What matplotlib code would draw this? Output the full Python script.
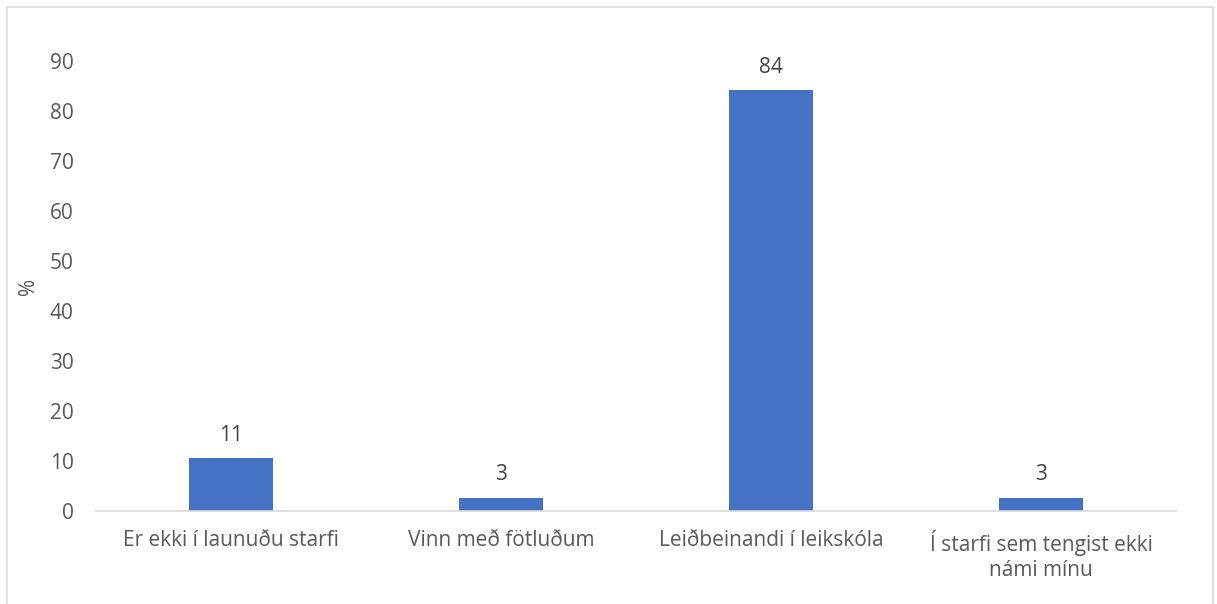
import matplotlib
import matplotlib.pyplot as plt
from matplotlib.patches import Rectangle

matplotlib.use('Agg')

# Data
categories = ["Er ekki í launuðu starfi", "Vinn með fötluðum",
              "Leiðbeinandi í leikskóla", "Í starfi sem tengist ekki\nnámi mínu"]
values = [10.5, 2.6, 84.2, 2.6]
labels = ["11", "3", "84", "3"]
yticks = [0, 10, 20, 30, 40, 50, 60, 70, 80, 90]

plt.rcParams['font.family'] = ['Open Sans', 'DejaVu Sans']

fig = plt.figure(figsize=(12.17, 6.04), dpi=100)
ax = fig.add_axes([0.0789, 0.154, 0.8874, 0.745])

x = range(len(categories))
bars = ax.bar(x, values, width=0.31, color='#4472C4')

for b, lab in zip(bars, labels):
    ax.annotate(lab, (b.get_x() + b.get_width() / 2, b.get_height()),
                xytext=(0, 9), textcoords='offset points',
                ha='center', va='bottom', fontsize=15, color='#404040')

ax.set_xlim(-0.5, len(categories) - 0.5)
ax.set_ylim(0, 90)
ax.set_yticks(yticks)
ax.set_xticks(list(x))
ax.set_xticklabels(categories, fontsize=15, color='#595959', linespacing=1.25)
ax.tick_params(axis='y', labelsize=15, labelcolor='#595959', length=0, pad=16)
ax.tick_params(axis='x', length=0, pad=14)
ax.set_ylabel('%', fontsize=15, color='#595959')
ax.yaxis.set_label_coords(-0.053, 0.5)

for s in ['top', 'right', 'left']:
    ax.spines[s].set_visible(False)
ax.spines['bottom'].set_color('#D9D9D9')
ax.spines['bottom'].set_linewidth(1.2)

# chart area border
fig.patches.append(Rectangle((7 / 1217, -0.05), 1206 / 1217, 1.05 - 7 / 604,
                             transform=fig.transFigure, fill=False,
                             edgecolor='#D9D9D9', linewidth=1.2))

fig.savefig('out.png', dpi=100)
plt.close(fig)
